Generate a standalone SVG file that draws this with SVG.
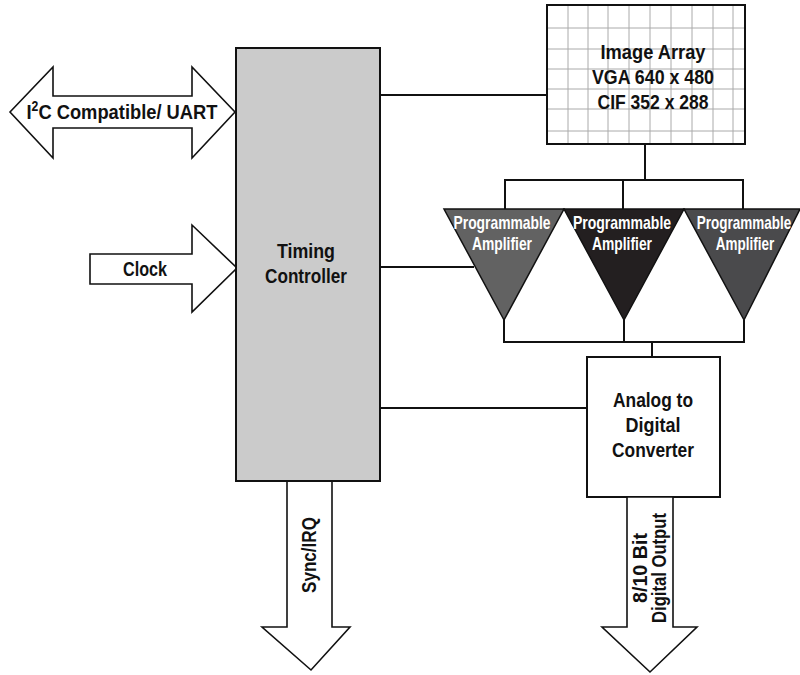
<svg xmlns="http://www.w3.org/2000/svg" width="800" height="675" viewBox="0 0 800 675">
<style>
.t{font-family:"Liberation Sans",Arial,sans-serif;font-weight:bold;fill:#111;text-anchor:middle}
.w{fill:#fff;font-size:18px}
.box{stroke:#111;stroke-width:2}
.arr{fill:#fff;stroke:#111;stroke-width:1.6;stroke-linejoin:miter}
.ln{fill:none;stroke:#111;stroke-width:2}
.grid{stroke:#aaa;stroke-width:1}
</style>
<rect width="800" height="675" fill="#fff"/>
<g id="connectors">
<line class="ln" x1="380" y1="95" x2="547" y2="95"/>
<line class="ln" x1="380" y1="267" x2="474" y2="267"/>
<line class="ln" x1="380" y1="408" x2="587" y2="408"/>
<path class="ln" d="M645 144V180M505 209V180H743V209M623 180V209"/>
<path class="ln" d="M504 320V342H744V320M624 320V342M652 342V357"/>
</g>
<g id="i2c">
<polygon class="arr" points="10,112 53,67 53,96 192,96 192,67 235,112 192,158 192,128 53,128 53,158"/>
<text class="t" x="122" y="119" font-size="21" textLength="191" lengthAdjust="spacingAndGlyphs">I<tspan font-size="14" dy="-8">2</tspan><tspan dy="8">C Compatible/ UART</tspan></text>
</g>
<g id="clock">
<polygon class="arr" points="90,254 192,254 192,225 237,268 192,312 192,284 90,284"/>
<text class="t" x="145" y="276" font-size="21" textLength="44" lengthAdjust="spacingAndGlyphs">Clock</text>
</g>
<g id="sync">
<polygon class="arr" points="287,481 332,481 332,627 350,627 311,670 262,627 287,627"/>
<text class="t" transform="translate(316,555) rotate(-90)" font-size="20" textLength="76" lengthAdjust="spacingAndGlyphs">Sync/IRQ</text>
</g>
<g id="timing">
<rect class="box" x="236" y="48" width="144" height="433" fill="#cbcbcb"/>
<text class="t" x="306" y="258" font-size="21" textLength="58" lengthAdjust="spacingAndGlyphs">Timing</text>
<text class="t" x="306" y="283" font-size="21" textLength="82" lengthAdjust="spacingAndGlyphs">Controller</text>
</g>
<g id="image-array">
<rect x="547" y="5" width="198" height="139" fill="#fff"/>
<path class="grid" d="M568 5V144M588 5V144M608 5V144M629 5V144M650 5V144M671 5V144M692 5V144M713 5V144M733 5V144M547 28H745M547 49H745M547 69H745M547 89H745M547 109H745M547 131H745"/>
<rect class="box" x="547" y="5" width="198" height="139" fill="none"/>
<text class="t" x="653" y="59" font-size="21" textLength="105" lengthAdjust="spacingAndGlyphs">Image Array</text>
<text class="t" x="653" y="84" font-size="21" textLength="122" lengthAdjust="spacingAndGlyphs">VGA 640 x 480</text>
<text class="t" x="653" y="109" font-size="21" textLength="111" lengthAdjust="spacingAndGlyphs">CIF 352 x 288</text>
</g>
<g id="amp1">
<polygon points="444,209 564,209 504,320" fill="#626262" stroke="#111" stroke-width="1.5"/>
<text class="t w" transform="translate(502,229) scale(0.77,1)">Programmable</text>
<text class="t w" transform="translate(502,250) scale(0.77,1)">Amplifier</text>
</g>
<g id="amp2">
<polygon points="564,209 684,209 624,320" fill="#231f20" stroke="#111" stroke-width="1.5"/>
<text class="t w" transform="translate(622,229) scale(0.78,1)">Programmable</text>
<text class="t w" transform="translate(622,250) scale(0.77,1)">Amplifier</text>
</g>
<g id="amp3">
<polygon points="684,209 800,209 744,320" fill="#4a4a4c" stroke="#111" stroke-width="1.5"/>
<text class="t w" transform="translate(744,229) scale(0.75,1)">Programmable</text>
<text class="t w" transform="translate(745,250) scale(0.75,1)">Amplifier</text>
</g>
<g id="adc">
<rect class="box" x="587" y="357" width="133" height="140" fill="#fff"/>
<text class="t" x="653" y="407" font-size="21" textLength="80" lengthAdjust="spacingAndGlyphs">Analog to</text>
<text class="t" x="653" y="432" font-size="21" textLength="55" lengthAdjust="spacingAndGlyphs">Digital</text>
<text class="t" x="653" y="457" font-size="21" textLength="82" lengthAdjust="spacingAndGlyphs">Converter</text>
</g>
<g id="digital-output">
<polygon class="arr" points="627,497 673,497 673,627 697,627 650,672 602,627 627,627"/>
<text class="t" transform="translate(647,568) rotate(-90)" font-size="20" textLength="70" lengthAdjust="spacingAndGlyphs">8/10 Bit</text>
<text class="t" transform="translate(666,568) rotate(-90)" font-size="20" textLength="110" lengthAdjust="spacingAndGlyphs">Digital Output</text>
</g>
</svg>
